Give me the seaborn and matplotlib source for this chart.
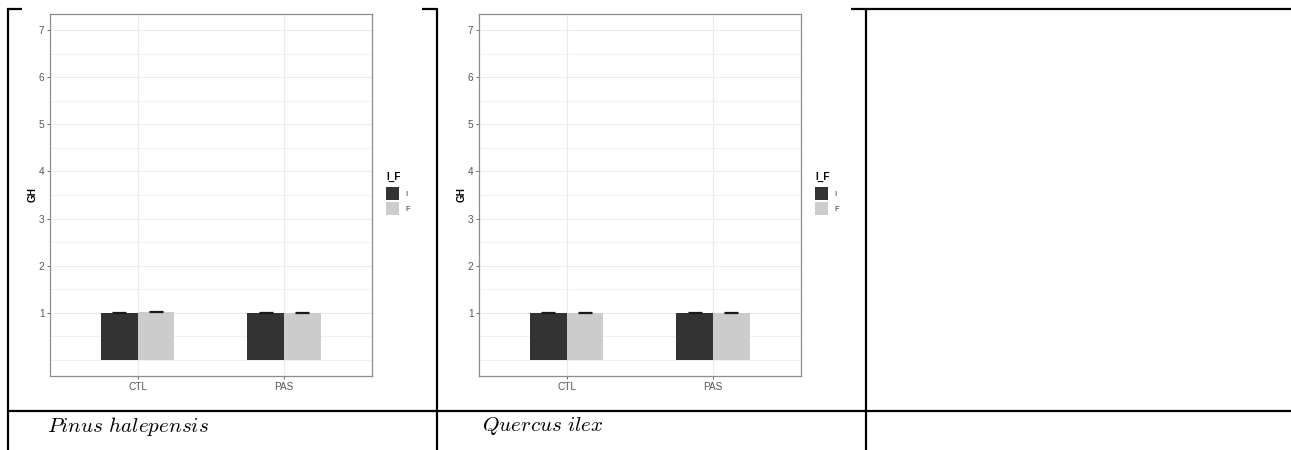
import matplotlib
matplotlib.use("Agg")
import matplotlib.pyplot as plt
from matplotlib.lines import Line2D
from matplotlib.patches import Patch
import seaborn as sns
import pandas as pd
import numpy as np

# ---- data -------------------------------------------------------------
treatments = ["CTL", "PAS"]
stages = ["I", "F"]

pinus_I = [1.00, 1.00]
pinus_F = [1.02, 1.00]
pinus_I_se = [0.005, 0.005]
pinus_F_se = [0.012, 0.005]

quercus_I = [1.00, 1.00]
quercus_F = [1.00, 1.00]
quercus_I_se = [0.005, 0.005]
quercus_F_se = [0.005, 0.005]

species = ["Pinus halepensis", "Quercus ilex"]
y_breaks = [1, 2, 3, 4, 5, 6, 7]

# ---- figure -------------------------------------------------------------
W, H = 1291, 450
DPI = 100
sns.set_theme(style="white")
plt.rcParams["font.family"] = ["Liberation Sans", "DejaVu Sans"]
plt.rcParams["mathtext.fontset"] = "cm"

fig = plt.figure(figsize=(W / DPI, H / DPI), dpi=DPI)
fig.patch.set_facecolor("white")


def fx(px):
    return px / W


def fy(py):
    return 1 - py / H


palette = {"I": "#333333", "F": "#CCCCCC"}
grid_col = "#EBEBEB"


def panel(left_px, right_px, I_vals, F_vals, I_se, F_se, leg_x):
    top_px, bot_px = 14, 376
    ax = fig.add_axes([fx(left_px), fy(bot_px), fx(right_px - left_px),
                       (bot_px - top_px) / H])
    df = pd.DataFrame({
        "trt": treatments * 2,
        "I_F": ["I"] * len(treatments) + ["F"] * len(treatments),
        "GH": list(I_vals) + list(F_vals),
        "se": list(I_se) + list(F_se),
    })
    sns.barplot(data=df, x="trt", y="GH", hue="I_F", hue_order=stages,
                order=treatments, palette=palette, width=0.5, errorbar=None,
                linewidth=0, saturation=1, ax=ax, legend=False, zorder=3)

    # error bars centred on each drawn bar
    bars = [p for p in ax.patches if p.get_height() > 0]
    for p, (_, row) in zip(bars, df.iterrows()):
        xc = p.get_x() + p.get_width() / 2
        ax.errorbar(xc, row["GH"], yerr=row["se"], fmt="none",
                    ecolor="#1a1a1a", elinewidth=0.9, capsize=5.2,
                    capthick=0.9, zorder=4)

    ax.set_xlim(-0.6, 1.6)
    ax.set_ylim(-0.35, 7.35)
    ax.set_yticks(y_breaks)
    ax.set_yticklabels([str(b) for b in y_breaks])
    ax.set_yticks(np.arange(0, 7.5, 0.5), minor=True)
    ax.grid(True, which="major", color=grid_col, lw=0.8, zorder=0)
    ax.grid(True, which="minor", axis="y", color=grid_col, lw=0.5, zorder=0)
    ax.set_axisbelow(True)
    ax.tick_params(axis="both", which="major", length=2.5, width=0.6,
                   color="#555555", labelsize=7.2, labelcolor="#555555",
                   pad=1.5, left=True, bottom=True)
    ax.tick_params(axis="y", which="minor", length=0)
    for s in ax.spines.values():
        s.set_visible(True)
        s.set_color("#8c8c8c")
        s.set_linewidth(0.9)
    ax.set_xlabel("")
    ax.set_ylabel("GH", fontsize=7.2, fontweight="bold", color="black")
    ax.yaxis.set_label_coords(-12 / (right_px - left_px), 0.5)

    handles = [Patch(facecolor=palette[s], edgecolor="none", label=s)
               for s in stages]
    leg = fig.legend(handles=handles, title="I_F", loc="upper left",
                     bbox_to_anchor=(fx(leg_x), fy(172)), frameon=False,
                     fontsize=5.5,
                     title_fontproperties={"weight": "bold", "size": 7.2},
                     handlelength=1.75, handleheight=2.3, labelspacing=0.2,
                     handletextpad=0.8, borderpad=0, borderaxespad=0)
    leg._legend_box.align = "left"
    leg._legend_box.sep = 3.5
    leg.get_title().set_color("black")
    for t in leg.get_texts():
        t.set_color("#333333")
    return ax


panel(50, 371.7, pinus_I, pinus_F, pinus_I_se, pinus_F_se, 386)
panel(479, 800.7, quercus_I, quercus_F, quercus_I_se, quercus_F_se, 815)

# ---- table rules ----------------------------------------------------------
lw = 1.6


def hline(x0, x1, y):
    fig.add_artist(Line2D([fx(x0), fx(x1)], [fy(y), fy(y)], color="black",
                          lw=lw, solid_capstyle="butt"))


def vline(x, y0, y1):
    fig.add_artist(Line2D([fx(x), fx(x)], [fy(y0), fy(y1)], color="black",
                          lw=lw, solid_capstyle="butt"))


hline(7, 22, 8.5)
hline(421.7, 437, 8.5)
hline(850.7, W, 8.5)
hline(7, W, 410.7)
vline(7.5, 8, H)
vline(437, 8, H)
vline(865.8, 8, H)

# species captions
for name, xpx in zip(species, [46.7, 481.7]):
    g, s = name.split(" ")
    fig.text(fx(xpx), fy(426), r"$\mathit{%s\ %s}$" % (g, s), fontsize=15.2,
             ha="left", va="center", color="black")

fig.savefig("out.png", dpi=DPI, facecolor="white")
